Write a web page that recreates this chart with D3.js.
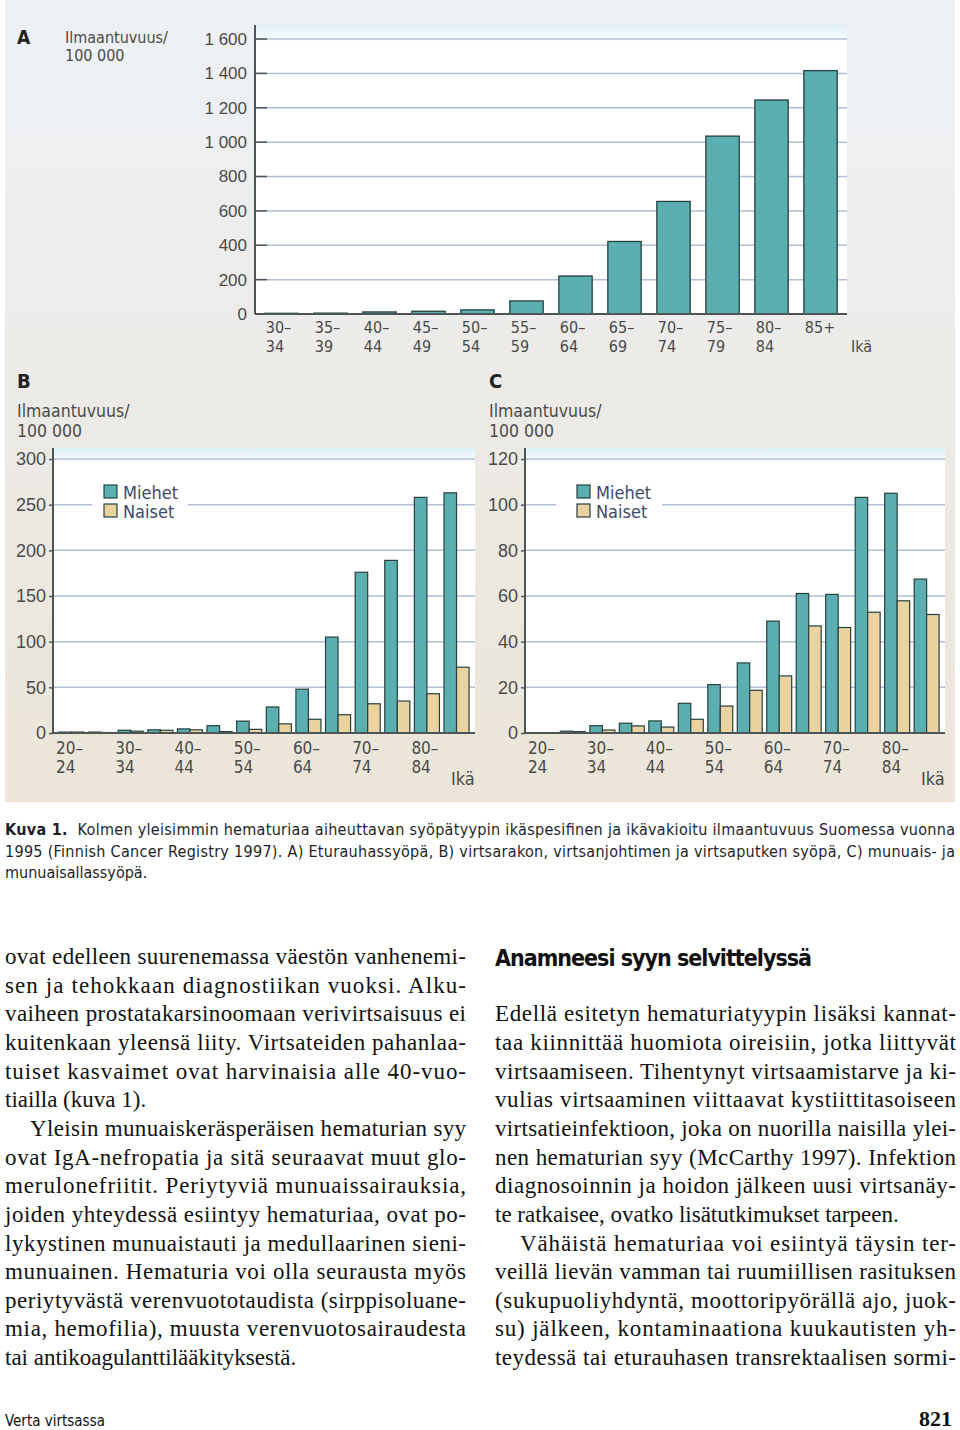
<!DOCTYPE html>
<html>
<head>
<meta charset="utf-8">
<script src="https://cdn.jsdelivr.net/npm/d3@7"></script>
<style>
  body { margin: 0; background: #fff; }
  .cond { font-family: "DejaVu Sans Condensed", "Liberation Sans Narrow", "DejaVu Sans", sans-serif; font-stretch: condensed; }
  .serif { font-family: "Liberation Serif", "DejaVu Serif", serif; }
</style>
</head>
<body>
<svg width="960" height="1430"></svg>
<script>
// ---- data ----
const agesA = ["30–34", "35–39", "40–44", "45–49", "50–54", "55–59", "60–64", "65–69", "70–74", "75–79", "80–84", "85+"];
const valuesA = [4, 5, 12, 16, 24, 76, 221, 422, 655, 1035, 1245, 1416];
const ticksA = [0, 200, 400, 600, 800, 1000, 1200, 1400, 1600];

const agesBC = ["20–24", "25–29", "30–34", "35–39", "40–44", "45–49", "50–54", "55–59", "60–64", "65–69", "70–74", "75–79", "80–84", "85+"];
const menB = [1, 1, 3, 3.5, 4.5, 8, 13, 28.5, 48, 105, 176, 189, 258, 263];
const womenB = [1, 0.5, 2, 3, 3.5, 1.5, 4, 10, 15, 20, 32, 35, 43, 72];
const ticksB = [0, 50, 100, 150, 200, 250, 300];

const menC = [0, 0.8, 3.2, 4.3, 5.3, 13, 21.2, 30.7, 49, 61.1, 60.7, 103.2, 105, 67.4];
const womenC = [0, 0.6, 1.3, 3.1, 2.6, 6, 11.8, 18.7, 25, 46.9, 46.2, 52.9, 57.9, 51.9];
const ticksC = [0, 20, 40, 60, 80, 100, 120];

const legendLabels = ["Miehet", "Naiset"];
const yTitle = ["Ilmaantuvuus/", "100 000"];
const xTitle = "Ikä";

const captionLines = [
  "Kolmen yleisimmin hematuriaa aiheuttavan syöpätyypin ikäspesifinen ja ikävakioitu ilmaantuvuus Suomessa vuonna",
  "1995 (Finnish Cancer Registry 1997). A) Eturauhassyöpä, B) virtsarakon, virtsanjohtimen ja virtsaputken syöpä, C) munuais- ja",
  "munuaisallassyöpä."
];

// [text, justified, indented]
const leftColumn = [
  ["ovat edelleen suurenemassa väestön vanhenemi-", 1, 0],
  ["sen ja tehokkaan diagnostiikan vuoksi. Alku-", 1, 0],
  ["vaiheen prostatakarsinoomaan verivirtsaisuus ei", 1, 0],
  ["kuitenkaan yleensä liity. Virtsateiden pahanlaa-", 1, 0],
  ["tuiset kasvaimet ovat harvinaisia alle 40-vuo-", 1, 0],
  ["tiailla (kuva 1).", 0, 0],
  ["Yleisin munuaiskeräsperäisen hematurian syy", 1, 1],
  ["ovat IgA-nefropatia ja sitä seuraavat muut glo-", 1, 0],
  ["merulonefriitit. Periytyviä munuaissairauksia,", 1, 0],
  ["joiden yhteydessä esiintyy hematuriaa, ovat po-", 1, 0],
  ["lykystinen munuaistauti ja medullaarinen sieni-", 1, 0],
  ["munuainen. Hematuria voi olla seurausta myös", 1, 0],
  ["periytyvästä verenvuototaudista (sirppisoluane-", 1, 0],
  ["mia, hemofilia), muusta verenvuotosairaudesta", 1, 0],
  ["tai antikoagulanttilääkityksestä.", 0, 0]
];
const heading = "Anamneesi syyn selvittelyssä";
const rightColumn = [
  ["Edellä esitetyn hematuriatyypin lisäksi kannat-", 1, 0],
  ["taa kiinnittää huomiota oireisiin, jotka liittyvät", 1, 0],
  ["virtsaamiseen. Tihentynyt virtsaamistarve ja ki-", 1, 0],
  ["vulias virtsaaminen viittaavat kystiittitasoiseen", 1, 0],
  ["virtsatieinfektioon, joka on nuorilla naisilla ylei-", 1, 0],
  ["nen hematurian syy (McCarthy 1997). Infektion", 1, 0],
  ["diagnosoinnin ja hoidon jälkeen uusi virtsanäy-", 1, 0],
  ["te ratkaisee, ovatko lisätutkimukset tarpeen.", 0, 0],
  ["Vähäistä hematuriaa voi esiintyä täysin ter-", 1, 1],
  ["veillä lievän vamman tai ruumiillisen rasituksen", 1, 0],
  ["(sukupuoliyhdyntä, moottoripyörällä ajo, juok-", 1, 0],
  ["su) jälkeen, kontaminaationa kuukautisten yh-", 1, 0],
  ["teydessä tai eturauhasen transrektaalisen sormi-", 1, 0]
];

// ---- styles ----
const teal = "#5cafb1", beige = "#ebd2a1", barStroke = "#26403f";
const gridColor = "#b2bfd6", axisColor = "#4d5555", labelColor = "#4a4a4a";

const svg = d3.select("svg");
const fmt = d3.formatLocale({decimal: ",", thousands: "\u00a0", grouping: [3], currency: ["", ""]}).format(",");

// panel background
const defs = svg.append("defs");
const bg = defs.append("linearGradient").attr("id", "bg").attr("x1", 0).attr("y1", 0).attr("x2", 0).attr("y2", 1);
bg.append("stop").attr("offset", "0%").attr("stop-color", "#edf1f6");
bg.append("stop").attr("offset", "45%").attr("stop-color", "#ecebe8");
bg.append("stop").attr("offset", "100%").attr("stop-color", "#ece5d8");
const pg = defs.append("linearGradient").attr("id", "plotbg").attr("x1", 0).attr("y1", 0).attr("x2", 0).attr("y2", 1);
pg.append("stop").attr("offset", "0%").attr("stop-color", "#dff0f8");
pg.append("stop").attr("offset", "6%").attr("stop-color", "#ffffff");
pg.append("stop").attr("offset", "100%").attr("stop-color", "#ffffff");

svg.append("rect").attr("x", 5).attr("y", 0).attr("width", 950).attr("height", 802).attr("fill", "url(#bg)");

// ---- chart A ----
function drawChartA() {
  const left = 255, right = 847, top = 25, zeroY = 314, topY = 39;
  const x = d3.scaleBand().domain(agesA).range([left, right]).paddingInner(0.32).paddingOuter(0.2);
  const y = d3.scaleLinear().domain([0, 1600]).range([zeroY, topY]);
  const g = svg.append("g").attr("class", "cond");

  g.append("rect").attr("x", left).attr("y", top).attr("width", right - left).attr("height", zeroY - top)
    .attr("fill", "url(#plotbg)");

  g.selectAll(".grid").data(ticksA.filter(d => d > 0)).enter().append("line")
    .attr("x1", left).attr("x2", right).attr("y1", d => y(d)).attr("y2", d => y(d))
    .attr("stroke", gridColor).attr("stroke-width", 1.5);
  g.selectAll(".tk").data(ticksA.filter(d => d > 0)).enter().append("line")
    .attr("x1", left).attr("x2", left + 12).attr("y1", d => y(d)).attr("y2", d => y(d))
    .attr("stroke", axisColor).attr("stroke-width", 1.5);

  g.selectAll(".bar").data(valuesA).enter().append("rect")
    .attr("x", (d, i) => x(agesA[i])).attr("width", x.bandwidth())
    .attr("y", d => y(d)).attr("height", d => zeroY - y(d))
    .attr("fill", teal).attr("stroke", barStroke).attr("stroke-width", 1.3);

  const ax = g.append("g").attr("transform", `translate(${left},0)`)
    .call(d3.axisLeft(y).tickValues(ticksA).tickSize(0).tickPadding(8).tickFormat(fmt));
  ax.select(".domain").attr("stroke", axisColor).attr("stroke-width", 2).attr("d", `M0,${top}V${zeroY}`);
  ax.selectAll("text").attr("font-size", 17).attr("fill", labelColor).attr("font-family", null);

  g.append("line").attr("x1", left).attr("x2", right).attr("y1", zeroY).attr("y2", zeroY)
    .attr("stroke", axisColor).attr("stroke-width", 2);

  g.selectAll(".xl1").data(agesA).enter().append("text")
    .attr("x", d => x(d) + 1).attr("y", 333).attr("font-size", 16).attr("fill", labelColor)
    .text(d => d.includes("–") ? d.split("–")[0] + "–" : d);
  g.selectAll(".xl2").data(agesA.filter(d => d.includes("–"))).enter().append("text")
    .attr("x", d => x(d) + 1).attr("y", 352).attr("font-size", 16).attr("fill", labelColor)
    .text(d => d.split("–")[1]);

  g.append("text").attr("x", 851).attr("y", 352).attr("font-size", 16).attr("fill", labelColor).text(xTitle);
  g.append("text").attr("x", 17).attr("y", 44).attr("font-size", 19).attr("font-weight", "bold").attr("fill", "#222").text("A");
  g.append("text").attr("x", 65).attr("y", 43).attr("font-size", 16).attr("fill", labelColor).text(yTitle[0]);
  g.append("text").attr("x", 65).attr("y", 61).attr("font-size", 16).attr("fill", labelColor).text(yTitle[1]);
}

// ---- charts B and C ----
function drawGrouped(cfg) {
  const {left, right, letter, men, women, ticks, max, legendX, legendBox} = cfg;
  const top = 448, zeroY = 733, topY = 459;
  const x0 = d3.scaleBand().domain(agesBC).range([left, right]).paddingInner(0.154).paddingOuter(0.2);
  const x1 = d3.scaleBand().domain(legendLabels).range([0, x0.bandwidth()]);
  const y = d3.scaleLinear().domain([0, max]).range([zeroY, topY]);
  const g = svg.append("g").attr("class", "cond");

  g.append("rect").attr("x", left).attr("y", top).attr("width", right - left).attr("height", zeroY - top)
    .attr("fill", "url(#plotbg)");

  g.selectAll(".grid").data(ticks.filter(d => d > 0)).enter().append("line")
    .attr("x1", left).attr("x2", right).attr("y1", d => y(d)).attr("y2", d => y(d))
    .attr("stroke", gridColor).attr("stroke-width", 1.5);

  // legend box covers the grid line
  g.append("rect").attr("x", legendBox[0]).attr("y", 478).attr("width", legendBox[1] - legendBox[0]).attr("height", 48)
    .attr("fill", "#fff");

  const series = [men, women];
  const colors = [teal, beige];
  series.forEach((vals, s) => {
    g.selectAll(".bar" + s).data(vals).enter().append("rect")
      .attr("x", (d, i) => x0(agesBC[i]) + x1(legendLabels[s]))
      .attr("width", x1.bandwidth())
      .attr("y", d => y(d)).attr("height", d => zeroY - y(d))
      .attr("fill", colors[s]).attr("stroke", barStroke).attr("stroke-width", 1.2)
      .attr("opacity", d => d > 0 ? 1 : 0);
  });

  const ax = g.append("g").attr("transform", `translate(${left},0)`)
    .call(d3.axisLeft(y).tickValues(ticks).tickSize(4).tickPadding(3));
  ax.select(".domain").attr("stroke", axisColor).attr("stroke-width", 2).attr("d", `M0,${top}V${zeroY}`);
  ax.selectAll(".tick line").attr("stroke", axisColor).attr("stroke-width", 1.5);
  ax.selectAll("text").attr("font-size", 18).attr("fill", labelColor).attr("font-family", null);

  g.append("line").attr("x1", left).attr("x2", right).attr("y1", zeroY).attr("y2", zeroY)
    .attr("stroke", axisColor).attr("stroke-width", 2);

  const shown = agesBC.filter((d, i) => i % 2 === 0 && d.includes("–"));
  g.selectAll(".xl1").data(shown).enter().append("text")
    .attr("x", d => x0(d) - 3).attr("y", 754).attr("font-size", 17).attr("fill", labelColor)
    .text(d => d.split("–")[0] + "–");
  g.selectAll(".xl2").data(shown).enter().append("text")
    .attr("x", d => x0(d) - 3).attr("y", 773).attr("font-size", 17).attr("fill", labelColor)
    .text(d => d.split("–")[1]);

  g.append("text").attr("x", right - 24).attr("y", 785).attr("font-size", 18).attr("fill", labelColor).text(xTitle);

  g.append("text").attr("x", left - 36).attr("y", 388).attr("font-size", 20).attr("font-weight", "bold").attr("fill", "#222").text(letter);
  g.append("text").attr("x", left - 36).attr("y", 417).attr("font-size", 17.5).attr("fill", labelColor).text(yTitle[0]);
  g.append("text").attr("x", left - 36).attr("y", 437).attr("font-size", 17.5).attr("fill", labelColor).text(yTitle[1]);

  legendLabels.forEach((lab, i) => {
    g.append("rect").attr("x", legendX).attr("y", 485 + i * 19).attr("width", 13).attr("height", 13)
      .attr("fill", colors[i]).attr("stroke", barStroke).attr("stroke-width", 1.2);
    g.append("text").attr("x", legendX + 19).attr("y", 499 + i * 19).attr("font-size", 18)
      .attr("fill", "#3d4a68").text(lab);
  });
}

drawChartA();
drawGrouped({left: 53, right: 475, letter: "B", men: menB, women: womenB, ticks: ticksB, max: 300, legendX: 104, legendBox: [92, 188]});
drawGrouped({left: 525, right: 945, letter: "C", men: menC, women: womenC, ticks: ticksC, max: 120, legendX: 577, legendBox: [556, 662]});

// ---- caption ----
const cap = svg.append("g").attr("class", "cond").attr("font-size", 16).attr("fill", "#1e1e2a");
captionLines.forEach((line, i) => {
  const t = cap.append("text").attr("x", 5).attr("y", 835 + i * 21.5);
  if (i === 0) {
    t.append("tspan").attr("font-weight", "bold").text("Kuva 1.");
    t.append("tspan").text("\u00a0 " + line);
  } else {
    t.text(line);
  }
  if (i < 2) t.attr("textLength", 950).attr("lengthAdjust", "spacing");
});

// ---- body text ----
function column(lines, x0, width, y0) {
  const g = svg.append("g").attr("class", "serif").attr("font-size", 23).attr("fill", "#111");
  lines.forEach(([txt, just, indent], i) => {
    const xi = x0 + (indent ? 25 : 0);
    const t = g.append("text").attr("x", xi).attr("y", y0 + i * 28.65).text(txt);
    if (just) t.attr("textLength", width - (xi - x0)).attr("lengthAdjust", "spacing");
  });
}
column(leftColumn, 5, 461, 964);
svg.append("text").attr("class", "cond").attr("x", 495).attr("y", 966).attr("font-size", 23)
  .attr("font-weight", "bold").attr("fill", "#111").attr("textLength", 317).attr("lengthAdjust", "spacing").text(heading);
column(rightColumn, 495, 461, 964 + 2 * 28.65);

// ---- footer ----
svg.append("text").attr("class", "cond").attr("x", 5).attr("y", 1426).attr("font-size", 15).attr("fill", "#111").text("Verta virtsassa");
svg.append("text").attr("class", "serif").attr("x", 952).attr("y", 1426).attr("font-size", 22)
  .attr("font-weight", "bold").attr("text-anchor", "end").attr("fill", "#111").text("821");
</script>
</body>
</html>
